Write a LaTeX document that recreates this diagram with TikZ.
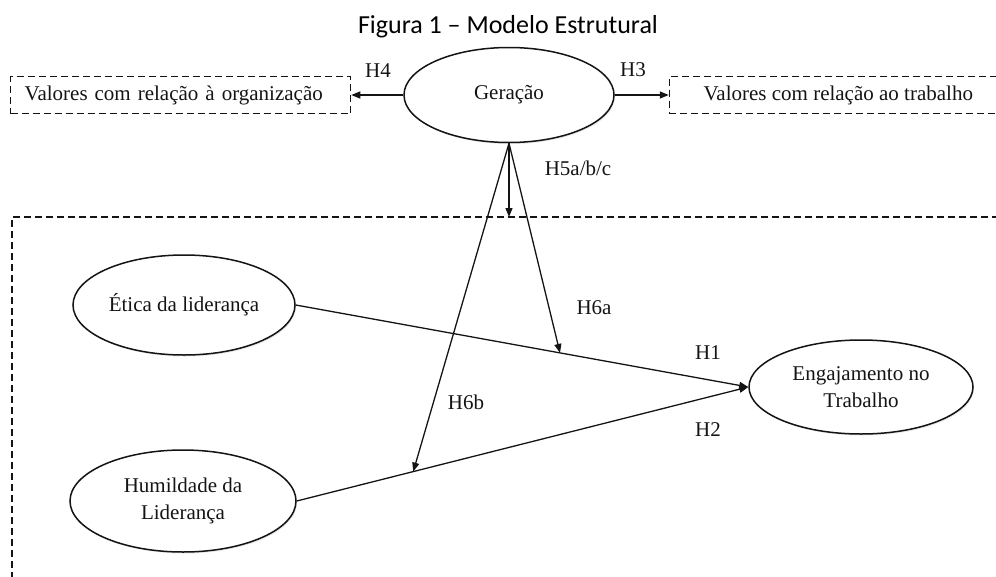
\documentclass[tikz,border=0pt]{standalone}
\usepackage{fontspec}
\setmainfont{Liberation Serif}
\newfontfamily\titlefont{Carlito}
\usepackage{tikz}
\usetikzlibrary{arrows.meta,positioning,shapes.geometric,shadows}
\definecolor{ink}{HTML}{141414}

\begin{document}
\begin{tikzpicture}[
  x=1pt,y=-1pt,
  >={Triangle[length=9pt,width=7pt]},
  font=\fontsize{21}{24}\selectfont,
  latent/.style={ellipse,draw=ink,line width=1.5pt,fill=white,inner sep=0pt,
                 align=center,text=ink,font=\fontsize{21}{27}\selectfont,
                 drop shadow={opacity=0.2,shadow xshift=1pt,shadow yshift=-1.5pt}},
  frame/.style={ink,line width=1.1pt,dash pattern=on 7pt off 4pt},
  valbox/.style={frame,draw,text=ink,minimum height=37pt,inner ysep=0pt},
  hyp/.style={inner sep=0pt,text=ink},
  link/.style={ink,line width=1.3pt}
]
  \useasboundingbox (0,0) rectangle (996,576);
  \node[font=\titlefont\fontsize{26}{30}\selectfont] (title) at (508,27) {Figura 1 – Modelo Estrutural};
  \node[latent,minimum width=210pt,minimum height=95pt] (ger) at (509,95) {Geração};
  \node[valbox,text width=312pt,align=left,inner xsep=14pt,left=52pt of ger] (orgval) {Valores com relação à organização};
  \node[valbox,minimum width=338pt,right=54pt of ger] (workval) {Valores com relação ao trabalho};
  % moderated block
  \coordinate (frame) at (12,217);
  \draw[frame] (1010,217) -- (frame) -- (12,590);
  \node[latent,minimum width=222pt,minimum height=100pt] (etica) at (184,305) {Ética da liderança};
  \node[latent,minimum width=226pt,minimum height=102pt] (humil) at (183,501) {Humildade da\\Liderança};
  \node[latent,minimum width=224pt,minimum height=94pt] (engaj) at (861,387) {Engajamento no\\Trabalho};
  \path (etica.east) -- (engaj.west) coordinate[pos=0.584] (h6a);
  \path (humil.east) -- (engaj.west) coordinate[pos=0.258] (h6b);
  \draw[link,->] (ger.west) -- (orgval.east);
  \draw[link,->] (ger.east) -- (workval.west);
  \draw[link,->] (etica.east) -- (engaj.west);
  \draw[link,->] (humil.east) -- (engaj.west);
  \draw[link,->] (ger.south) -- (ger.south |- frame);
  \draw[link,->] (ger.south) -- (h6a);
  \draw[link,->] (ger.south) -- (h6b);
  % hypotheses
  \node[hyp] (h4) at (378,71) {H4};
  \node[hyp] (h3) at (633,70) {H3};
  \node[hyp] (h5) at (578,168) {H5a/b/c};
  \node[hyp] (h6an) at (594,308) {H6a};
  \node[hyp] (h6bn) at (466,402) {H6b};
  \node[hyp] (h1) at (708,353) {H1};
  \node[hyp] (h2) at (708,430) {H2};
\end{tikzpicture}
\end{document}
